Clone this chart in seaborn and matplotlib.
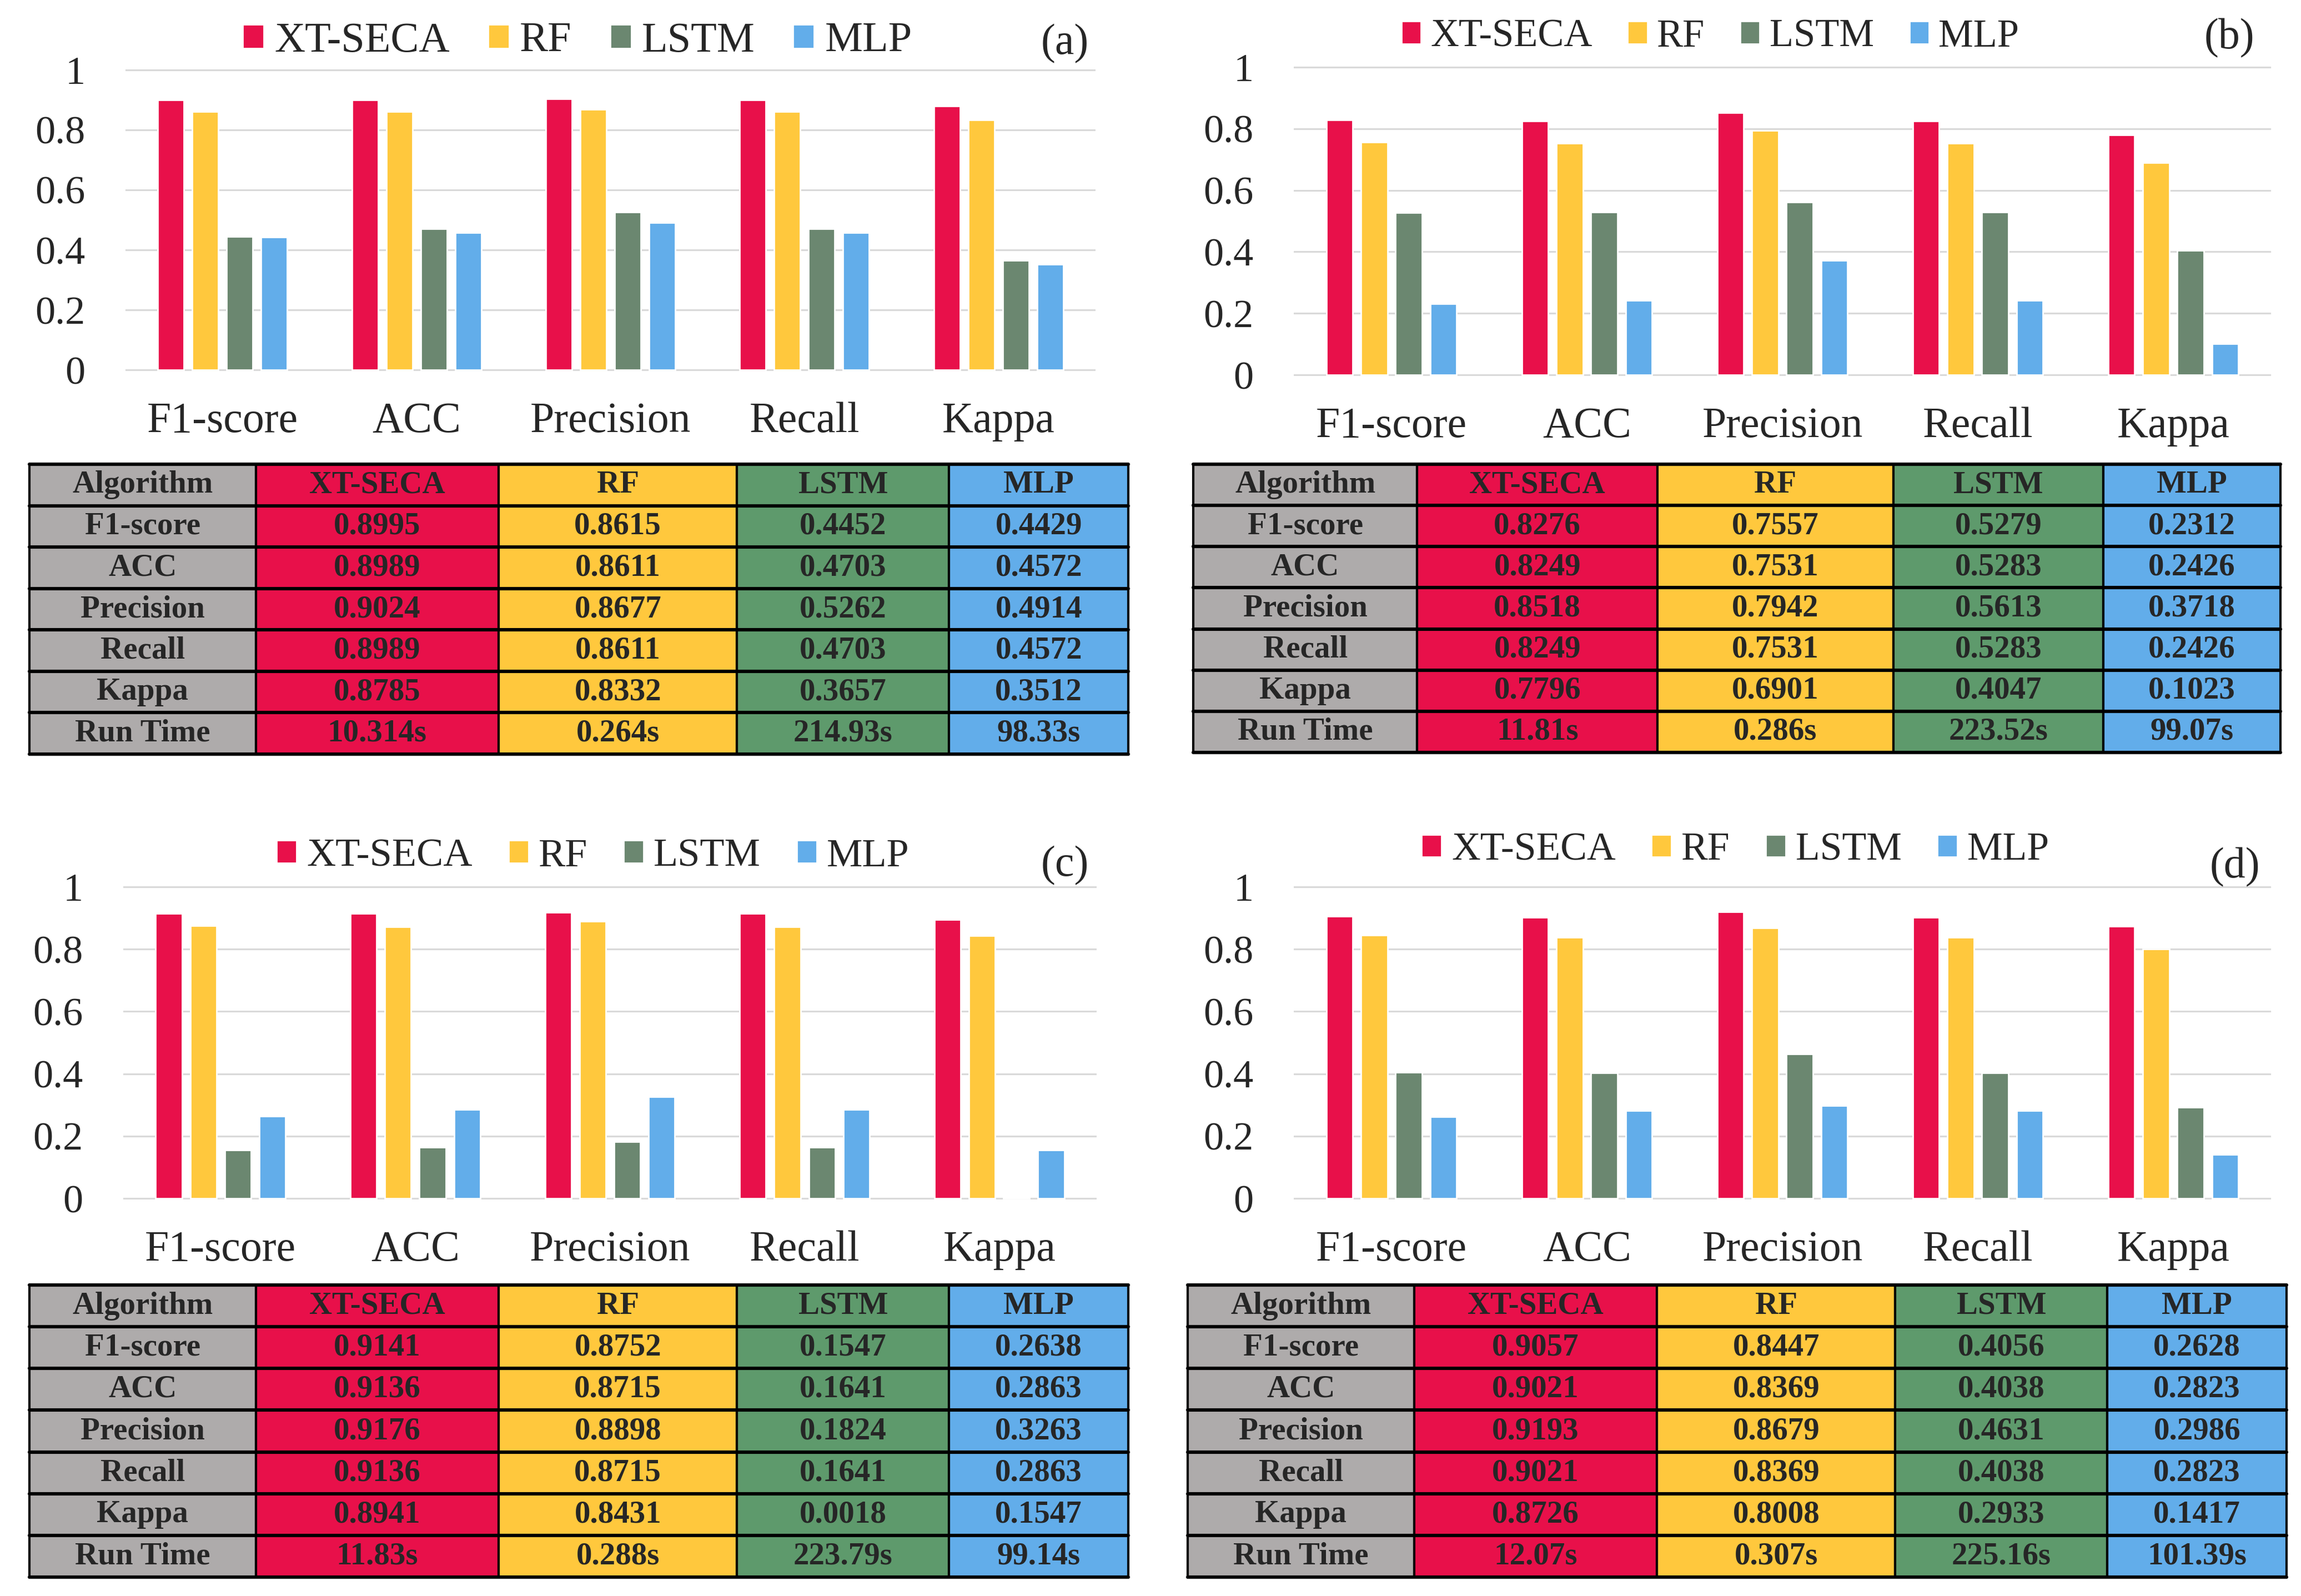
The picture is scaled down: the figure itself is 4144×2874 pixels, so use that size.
import numpy as np
import pandas as pd
import seaborn as sns
import matplotlib.pyplot as plt

metrics = ["F1-score", "ACC", "Precision", "Recall", "Kappa"]
algorithms = ["XT-SECA", "RF", "LSTM", "MLP"]

# panel (a)
xtseca_a = [0.8995, 0.8989, 0.9024, 0.8989, 0.8785]
rf_a = [0.8615, 0.8611, 0.8677, 0.8611, 0.8332]
lstm_a = [0.4452, 0.4703, 0.5262, 0.4703, 0.3657]
mlp_a = [0.4429, 0.4572, 0.4914, 0.4572, 0.3512]
runtime_a = ["10.314s", "0.264s", "214.93s", "98.33s"]

# panel (b)
xtseca_b = [0.8276, 0.8249, 0.8518, 0.8249, 0.7796]
rf_b = [0.7557, 0.7531, 0.7942, 0.7531, 0.6901]
lstm_b = [0.5279, 0.5283, 0.5613, 0.5283, 0.4047]
mlp_b = [0.2312, 0.2426, 0.3718, 0.2426, 0.1023]
runtime_b = ["11.81s", "0.286s", "223.52s", "99.07s"]

# panel (c)
xtseca_c = [0.9141, 0.9136, 0.9176, 0.9136, 0.8941]
rf_c = [0.8752, 0.8715, 0.8898, 0.8715, 0.8431]
lstm_c = [0.1547, 0.1641, 0.1824, 0.1641, 0.0018]
mlp_c = [0.2638, 0.2863, 0.3263, 0.2863, 0.1547]
runtime_c = ["11.83s", "0.288s", "223.79s", "99.14s"]

# panel (d)
xtseca_d = [0.9057, 0.9021, 0.9193, 0.9021, 0.8726]
rf_d = [0.8447, 0.8369, 0.8679, 0.8369, 0.8008]
lstm_d = [0.4056, 0.4038, 0.4631, 0.4038, 0.2933]
mlp_d = [0.2628, 0.2823, 0.2986, 0.2823, 0.1417]
runtime_d = ["12.07s", "0.307s", "225.16s", "101.39s"]

bar_colors = ["#E8104A", "#FFC83D", "#6B8770", "#62ADEA"]
table_colors = ["#E8104A", "#FFC83D", "#5E9A6C", "#62ADEA"]
gray = "#AEABAB"
col_frac = [0.206, 0.221, 0.217, 0.193, 0.163]

sns.set_style("white")
SERIF = ["Liberation Serif", "DejaVu Serif"]
plt.rcParams["font.family"] = SERIF

W, H, DPI = 4144, 2874, 200
fig = plt.figure(figsize=(W / DPI, H / DPI), dpi=DPI)


def box(x0, y0, x1, y1):
    # pixel box (top-left origin) -> figure fraction
    return [x0 / W, 1 - y1 / H, (x1 - x0) / W, (y1 - y0) / H]


def draw_panel(tag, vals, runtime, ax_px, leg_xy, leg_size, lab_xy, tab_px):
    df = pd.DataFrame({
        "Metric": np.tile(metrics, len(algorithms)),
        "Algorithm": np.repeat(algorithms, len(metrics)),
        "Score": np.concatenate(vals),
    })
    ax = fig.add_axes(box(*ax_px))
    sns.barplot(data=df, x="Metric", y="Score", hue="Algorithm",
                order=metrics, hue_order=algorithms, palette=bar_colors,
                saturation=1, width=0.71, gap=0.24, errorbar=None, ax=ax)
    ax.set_ylim(-0.003, 1.003)
    ax.set_yticks(np.arange(0, 1.01, 0.2))
    ax.yaxis.set_major_formatter(plt.FuncFormatter(lambda v, p: f"{v:g}"))
    ax.yaxis.grid(True, color="#D9D9D9", lw=1.1)
    ax.set_axisbelow(True)
    for s in ax.spines.values():
        s.set_visible(False)
    ax.set_xlabel("")
    ax.set_ylabel("")
    ax.tick_params(axis="x", labelsize=28, pad=20, length=0)
    ax.tick_params(axis="y", labelsize=26, pad=26, length=0)
    for lbl in ax.get_xticklabels() + ax.get_yticklabels():
        lbl.set_family(SERIF)

    handles, labels = ax.get_legend_handles_labels()
    ax.get_legend().remove()
    fig.legend(handles, labels, loc="center",
               bbox_to_anchor=(leg_xy[0] / W, 1 - leg_xy[1] / H),
               ncol=4, frameon=False, prop={"family": SERIF, "size": leg_size},
               handlelength=0.5, handleheight=0.5, handletextpad=0.25,
               columnspacing=0.9, borderpad=0, borderaxespad=0)
    fig.text(lab_xy[0] / W, 1 - lab_xy[1] / H, f"({tag})",
             ha="right", va="center", fontsize=28, family=SERIF)

    # table under the chart
    tax = fig.add_axes(box(*tab_px))
    tax.axis("off")
    rows = [["Algorithm"] + algorithms]
    for i, m in enumerate(metrics):
        rows.append([m] + [f"{v[i]:.4f}" for v in vals])
    rows.append(["Run Time"] + runtime)
    colours = [[gray] + table_colors for _ in rows]
    tbl = tax.table(cellText=rows, cellColours=colours, colWidths=col_frac,
                    cellLoc="center", bbox=[0, 0, 1, 1])
    tbl.auto_set_font_size(False)
    for cell in tbl.get_celld().values():
        cell.set_edgecolor("black")
        cell.set_linewidth(1.5)
        txt = cell.get_text()
        txt.set_fontsize(20.5)
        txt.set_fontweight("bold")
        txt.set_family(SERIF)
    for k in range(len(rows) + 1):
        tax.axhline(k / len(rows), color="black", lw=2.2, clip_on=False)


draw_panel("a", [xtseca_a, rf_a, lstm_a, mlp_a], runtime_a,
           (226, 124, 1973, 668), (1040, 74), 27.5, (1961, 79),
           (53, 836, 2032, 1358))
draw_panel("b", [xtseca_b, rf_b, lstm_b, mlp_b], runtime_b,
           (2330, 119, 4090, 677), (3080, 66), 25.4, (4060, 69),
           (2149, 836, 4107, 1355))
draw_panel("c", [xtseca_c, rf_c, lstm_c, mlp_c], runtime_c,
           (222, 1595, 1975, 2160), (1068, 1542), 26, (1961, 1559),
           (53, 2314, 2032, 2840))
draw_panel("d", [xtseca_d, rf_d, lstm_d, mlp_d], runtime_d,
           (2330, 1595, 4090, 2160), (3125, 1531), 25.8, (4070, 1562),
           (2139, 2314, 4118, 2840))

fig.savefig("out.png", dpi=DPI)
